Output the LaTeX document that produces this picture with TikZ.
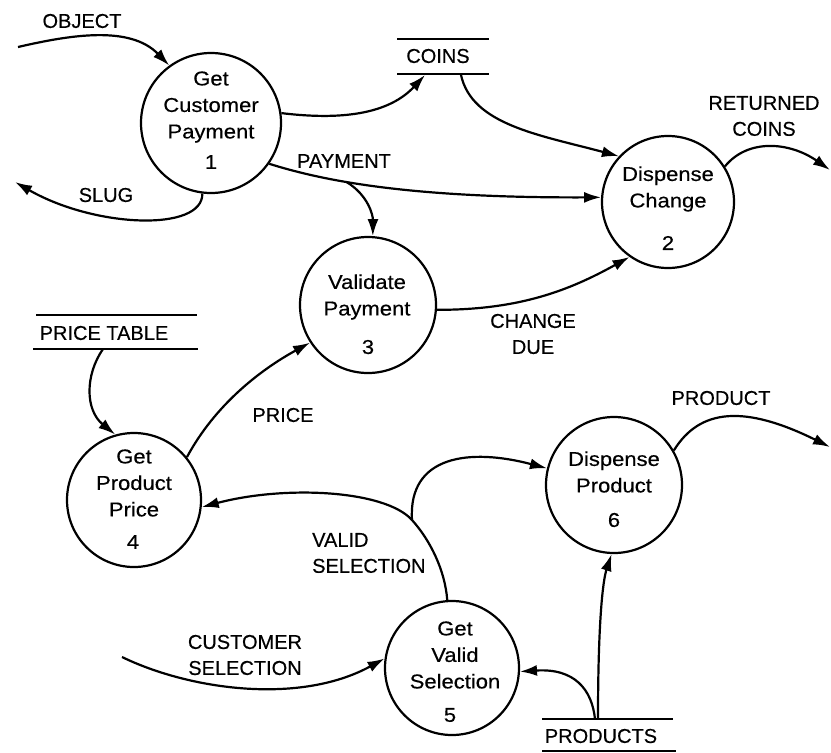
\documentclass[tikz,border=0pt]{standalone}
\usepackage{fontspec}
\setmainfont[FakeBold=0.4]{Liberation Sans}
\newfontfamily\procfont[FakeStretch=1.1,FakeBold=0.4]{Liberation Sans}
\usetikzlibrary{arrows.meta}

\begin{document}
\begin{tikzpicture}[x=1pt,y=-1pt,
  proc/.style={circle, draw, line width=2.2pt, inner sep=0pt, minimum size=136pt},
  ptext/.style={align=center, font=\procfont\fontsize{20}{26.5}\selectfont, inner sep=0pt},
  lbl/.style={align=center, font=\fontsize{20}{26}\selectfont, inner sep=0pt},
  flowarrow/.style={line width=2.2pt, -{Latex[length=17pt,width=11pt]}},
  storeline/.style={line width=2.2pt}]
\useasboundingbox (0,0) rectangle (831,753);

% processes
\node[proc, minimum size=140pt] (p1) at (211,123) {};
\node[ptext] (p1n) at (211,107) {Get\\Customer\\Payment};
\node[ptext] (p1i) at (211,162) {1};

\node[proc, minimum size=132pt] (p2) at (668,202) {};
\node[ptext] (p2n) at (668,189) {Dispense\\Change};
\node[ptext] (p2i) at (668,243) {2};

\node[proc] (p3) at (368,305) {};
\node[ptext] (p3n) at (367,297) {Validate\\Payment};
\node[ptext] (p3i) at (368,347) {3};

\node[proc, minimum size=134pt] (p4) at (134,500) {};
\node[ptext] (p4n) at (134,483) {Get\\Product\\Price};
\node[ptext] (p4i) at (133,542) {4};

\node[proc, minimum size=134pt] (p5) at (452,668) {};
\node[ptext] (p5n) at (455,655) {Get\\Valid\\Selection};
\node[ptext] (p5i) at (450,715) {5};

\node[proc] (p6) at (614,485) {};
\node[ptext] (p6n) at (614,472) {Dispense\\Product};
\node[ptext] (p6i) at (614,520) {6};

% data stores
\draw[storeline] (397,39) -- (489,39) (397,74) -- (489,74);
\node[lbl] (coins) at (438,56) {COINS};
\coordinate (coinsIn) at (425,75);
\coordinate (coinsOut) at (461,75);

\draw[storeline] (36,315) -- (197,315) (33,349) -- (198,349);
\node[lbl] (pricetab) at (104,333) {PRICE TABLE};
\coordinate (priceOut) at (103,349);

\draw[storeline] (542,719) -- (673,719) (542,751) -- (676,751);
\node[lbl] (products) at (601,736) {PRODUCTS};
\coordinate (prodA) at (595,719);
\coordinate (prodB) at (598,719);

% external ends
\coordinate (objSrc) at (18,47);
\coordinate (slugSink) at (15,182);
\coordinate (retSink) at (830,170);
\coordinate (prodSink) at (830,447);
\coordinate (custSrc) at (122,657);
\coordinate (valFork) at (412,520);

% flows
\draw[flowarrow] (objSrc) .. controls (70,35) and (130,25) .. (p1.126);
\draw[flowarrow] (p1.-97) .. controls (203,232) and (95,228) .. (slugSink);
\draw[flowarrow] (p1.8) .. controls (330,119) and (385,118) .. (coinsIn);
\draw[flowarrow] (coinsOut) .. controls (472,125) and (540,135) .. (p2.137);
\draw[flowarrow] (p1.-35) .. controls (330,183) and (420,198) .. (p2.176)
  coordinate[pos=0.35] (payFork);
\draw[flowarrow] (payFork) .. controls (368,195) and (373,215) .. (p3.86);
\draw[flowarrow] (p3.-4) .. controls (520,310) and (570,290) .. (p2.235);
\draw[flowarrow] (p2.32) .. controls (748,138) and (790,142) .. (retSink);
\draw[flowarrow] (priceOut) .. controls (85,375) and (85,410) .. (p4.106);
\draw[flowarrow] (p4.39) .. controls (215,405) and (260,370) .. (p3.213);
\draw[flowarrow] (p5.94) .. controls (445,570) and (430,540) .. (valFork)
  .. controls (385,490) and (285,485) .. (p4.-6);
\draw[flowarrow] (valFork) .. controls (408,455) and (470,448) .. (p6.166);
\draw[flowarrow] (p6.30) .. controls (700,408) and (745,405) .. (prodSink);
\draw[flowarrow] (custSrc) .. controls (190,690) and (300,705) .. (p5.172);
\draw[flowarrow] (prodA) .. controls (592,690) and (575,668) .. (p5.-3);
\draw[flowarrow] (prodB) .. controls (598,620) and (603,580) .. (p6.-92);

% flow labels
\node[lbl] (lobj) at (82,21) {OBJECT};
\node[lbl] (lslug) at (106,195) {SLUG};
\node[lbl] (lpay) at (344,161) {PAYMENT};
\node[lbl] (lret) at (764,116) {RETURNED\\COINS};
\node[lbl] (lchg) at (533,334) {CHANGE\\DUE};
\node[lbl] (lprice) at (283,415) {PRICE};
\node[lbl, anchor=west, align=left] (lval) at (312,553) {VALID\\SELECTION};
\node[lbl] (lprod) at (721,398) {PRODUCT};
\node[lbl] (lcust) at (245,655) {CUSTOMER\\SELECTION};
\end{tikzpicture}
\end{document}
